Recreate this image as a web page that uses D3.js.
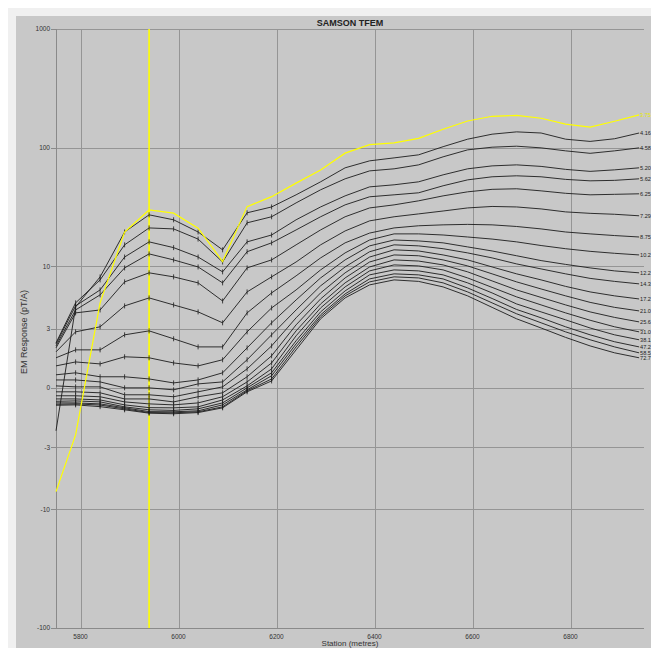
<!DOCTYPE html>
<html><head><meta charset="utf-8">
<script src="https://cdn.jsdelivr.net/npm/d3@7"></script>
<style>
html,body{margin:0;padding:0;background:#fff;overflow:hidden;}
svg{display:block;}
text{font-family:"Liberation Sans",Arial,sans-serif;}
</style></head><body>
<svg id="chart" width="651" height="648"></svg>
<script>
// ---------- data ----------
const chartTitle = "SAMSON TFEM";
const xTitle = "Station (metres)";
const yTitle = "EM Response (pT/A)";
const stations = [5750,5790,5840,5890,5940,5990,6040,6090,6140,6190,6240,6290,6340,6390,6440,6490,6540,6590,6640,6690,6740,6790,6840,6890,6940];
const gateLabels = ["3.75","4.16","4.58","5.20","5.62","6.25","7.29","8.75","10.2","12.2","14.3","17.2","21.0","25.6","31.0","38.1","47.2","58.5","72.7"];
const xTicks = [5800,6000,6200,6400,6600,6800];
const yTicks = [1000,100,10,3,0,-3,-10,-100];
const yTickLabels = ["1000","100","10","3","0","-3","-10","-100"];
const markerStation = 5940;

const g01 = [-7.1,-2.38,4.93,19.5,29.9,28.1,21,11,31.9,38.7,50.3,65,90,106,110,120,143,168,184,187,177,158,149,167,189];
const g02 = [-2.17,4.56,8.16,19.5,27.2,24.7,19.5,13.8,28.3,31.7,40.1,51.6,67.7,77.5,82.1,87.1,102,118,130,136,133,118,113,119,133];
const g03 = [2.27,4.93,7.70,15.2,21.1,20.7,17.0,10.9,23.3,26.2,34.3,44.2,54.7,63.8,66.4,71.7,83.8,95.9,101,103,99.7,94.1,89.7,94.1,99.7];
const g04 = [2.22,4.65,6.34,12.0,16.1,14.4,12.0,9.0,16.1,18.4,24.7,31.7,39.3,46.8,48.7,51.6,59.1,66.4,70.3,71.7,69.6,65.7,63.2,65.1,67.7];
const g05 = [2.12,4.30,5.76,9.72,12.75,11.35,9.9,7.27,13.3,15.8,20.3,26.2,33.0,38.6,40.1,41.7,47.8,53.6,56.9,58.0,56.9,54.1,52.6,53.1,54.7];
const g06 = [2.02,4.06,4.30,7.41,8.83,8.17,7.27,5.12,9.72,11.35,15.2,20.3,26.2,31.1,33.0,35.7,39.3,42.5,44.6,45.1,43.3,41.3,40.1,40.5,40.9];
const g07 = [1.82,2.83,3.10,4.65,5.43,4.74,4.14,3.35,6.10,8.17,10.9,15.2,19.9,24.2,26.2,27.7,29.3,31.1,32.0,31.7,30.5,28.8,28.0,27.5,26.7];
const g08 = [1.52,1.92,1.92,2.68,2.88,2.48,2.07,2.07,4.06,5.98,8.33,11.8,15.8,19.1,21.1,22.0,22.4,22.6,22.4,21.7,20.7,19.5,18.8,18.2,17.7];
const g09 = [1.11,1.31,1.21,1.57,1.52,1.26,1.11,1.42,2.83,4.47,6.34,9.35,13.0,16.7,18.8,18.8,18.4,17.7,17.0,16.1,15.0,14.1,13.4,12.9,12.5];
const g10 = [0.66,0.76,0.56,0.56,0.45,0.25,0.40,0.76,2.02,3.35,5.22,8.0,11.35,14.9,16.7,16.4,15.8,14.6,13.5,12.3,11.2,10.4,9.72,9.17,8.83];
const g11 = [0.40,0.40,0.30,0,0,-0.10,0.20,0.30,1.42,2.68,4.30,6.86,9.9,13.3,15.2,14.9,14.1,13.0,11.8,10.5,9.53,8.66,7.93,7.48,7.13];
const g12 = [0.10,0.05,0.05,-0.35,-0.35,-0.45,-0.20,0.05,0.96,2.12,3.69,5.98,8.83,12.0,13.8,13.5,12.5,11.35,9.9,8.66,7.70,6.79,6.10,5.65,5.32];
const g13 = [-0.20,-0.20,-0.25,-0.56,-0.56,-0.71,-0.45,-0.25,0.56,1.62,3.22,5.32,8.0,10.9,12.5,12.3,11.35,10.1,8.66,7.41,6.46,5.65,4.98,4.52,4.22];
const g14 = [-0.40,-0.40,-0.45,-0.71,-0.81,-0.86,-0.76,-0.45,0.30,1.26,2.88,4.83,7.27,9.9,11.35,11.1,10.3,9.0,7.55,6.34,5.48,4.74,4.14,3.72,3.41];
const g15 = [-0.56,-0.56,-0.61,-0.86,-1.00,-1.01,-0.96,-0.61,0.10,0.96,2.63,4.47,6.72,9.17,10.3,10.1,9.35,8.0,6.66,5.54,4.74,4.06,3.52,3.10,2.83];
const g16 = [-0.68,-0.66,-0.71,-0.96,-1.11,-1.14,-1.06,-0.76,0,0.76,2.38,4.14,6.22,8.49,9.35,9.17,8.49,7.27,5.98,4.83,4.14,3.55,3.03,2.68,2.43];
const g17 = [-0.76,-0.76,-0.81,-1.01,-1.20,-1.21,-1.16,-0.86,-0.10,0.61,2.22,3.91,5.87,7.85,8.66,8.49,7.85,6.59,5.37,4.34,3.69,3.10,2.68,2.33,2.07];
const g18 = [-0.83,-0.81,-0.87,-1.06,-1.25,-1.26,-1.21,-0.96,-0.15,0.45,2.07,3.76,5.65,7.41,8.17,8.0,7.27,6.10,4.93,3.99,3.35,2.83,2.43,2.07,1.77];
const g19 = [-0.88,-0.86,-0.95,-1.11,-1.28,-1.31,-1.25,-1.01,-0.20,0.35,1.92,3.62,5.43,6.99,7.70,7.48,6.72,5.65,4.52,3.62,3.03,2.55,2.12,1.77,1.52];
const seriesValues = [g01,g02,g03,g04,g05,g06,g07,g08,g09,g10,g11,g12,g13,g14,g15,g16,g17,g18,g19];

// ---------- layout ----------
const W = 651, H = 648;
const plot = {left:56, right:644, top:29, bottom:628};
const svg = d3.select("#chart");

svg.append("rect").attr("x",0).attr("y",0).attr("width",W).attr("height",H).attr("fill","#ffffff");
svg.append("rect").attr("x",8).attr("y",8).attr("width",W).attr("height",H).attr("fill","#f0f0f0");
svg.append("rect").attr("x",16).attr("y",16).attr("width",W).attr("height",H).attr("fill","#c8c8c8");

// ---------- scales ----------
const LIN = 3; // linear zone -3..3, logarithmic outside
function tf(v){ const a = Math.abs(v); return a <= LIN ? v/(2*LIN) : Math.sign(v)*(0.5 + Math.log10(a/LIN)); }
const x = d3.scaleLinear().domain([5750, 6950]).range([plot.left, plot.right]);
const yT = d3.scaleLinear().domain([tf(-100), tf(1000)]).range([plot.bottom, plot.top]);
const y = v => yT(tf(v));

// ---------- grid ----------
const grid = svg.append("g").attr("shape-rendering","crispEdges");
grid.selectAll("line.h").data(yTicks).enter().append("line")
  .attr("x1",plot.left).attr("x2",plot.right)
  .attr("y1",d=>Math.round(y(d))+0.5).attr("y2",d=>Math.round(y(d))+0.5)
  .attr("stroke",d=> (d===-100) ? "#8a8a8a" : "#959595").attr("stroke-width",1);
grid.selectAll("line.v").data(xTicks).enter().append("line")
  .attr("x1",d=>Math.round(x(d))+0.5).attr("x2",d=>Math.round(x(d))+0.5)
  .attr("y1",plot.top).attr("y2",plot.bottom)
  .attr("stroke","#959595").attr("stroke-width",1);
grid.append("line").attr("x1",plot.left+0.5).attr("x2",plot.left+0.5)
  .attr("y1",plot.top).attr("y2",plot.bottom).attr("stroke","#8a8a8a");
grid.selectAll("line.yt").data(yTicks).enter().append("line")
  .attr("x1",plot.left-5).attr("x2",plot.left)
  .attr("y1",d=>Math.round(y(d))+0.5).attr("y2",d=>Math.round(y(d))+0.5)
  .attr("stroke","#8a8a8a");

// tick labels
svg.selectAll("text.yl").data(yTicks).enter().append("text")
  .attr("x",plot.left-6).attr("y",d=>y(d)+2.3)
  .attr("text-anchor","end").attr("font-size",6.5).attr("fill","#333")
  .text((d,i)=>yTickLabels[i]);
svg.selectAll("text.xl").data(xTicks).enter().append("text")
  .attr("x",d=>x(d)).attr("y",plot.bottom+10.5)
  .attr("text-anchor","middle").attr("font-size",6.5).attr("fill","#333")
  .text(d=>d);

// titles
svg.append("text").attr("x",(plot.left+plot.right)/2).attr("y",25.5)
  .attr("text-anchor","middle").attr("font-size",9).attr("font-weight","bold").attr("fill","#222")
  .text(chartTitle);
svg.append("text").attr("transform","translate(27,332) rotate(-90)")
  .attr("text-anchor","middle").attr("font-size",9).attr("fill","#333")
  .text(yTitle);
svg.append("text").attr("x",(plot.left+plot.right)/2).attr("y",645.5)
  .attr("text-anchor","middle").attr("font-size",8).attr("fill","#333")
  .text(xTitle);

// yellow marker line
svg.append("line").attr("x1",x(markerStation)).attr("x2",x(markerStation))
  .attr("y1",plot.top).attr("y2",plot.bottom)
  .attr("stroke","#ffff00").attr("stroke-width",1.6);

// ---------- series ----------
const line = d3.line().x((d,i)=>x(stations[i])).y(d=>y(d));
const order = d3.range(seriesValues.length).reverse(); // draw yellow last
const sg = svg.append("g");
order.forEach(k=>{
  const vals = seriesValues[k];
  const col = k===0 ? "#ffff00" : "#1c1c1c";
  sg.append("path").attr("d",line(vals)).attr("fill","none")
    .attr("stroke",col).attr("stroke-width",k===0?1.2:0.9);
  if(k>0){
    vals.forEach((v,i)=>{
      if(i>=1 && i<=9){
        sg.append("line").attr("x1",x(stations[i])).attr("x2",x(stations[i]))
          .attr("y1",y(v)-2.5).attr("y2",y(v)+2.5).attr("stroke",col).attr("stroke-width",0.8);
      }
    });
  }
  const last = vals[vals.length-1];
  svg.append("text").attr("x",x(stations[stations.length-1])+1).attr("y",y(last)+2)
    .attr("font-size",5.6).attr("fill",k===0?"#e8e800":"#222")
    .text(gateLabels[k]);
});
</script>
</body></html>
